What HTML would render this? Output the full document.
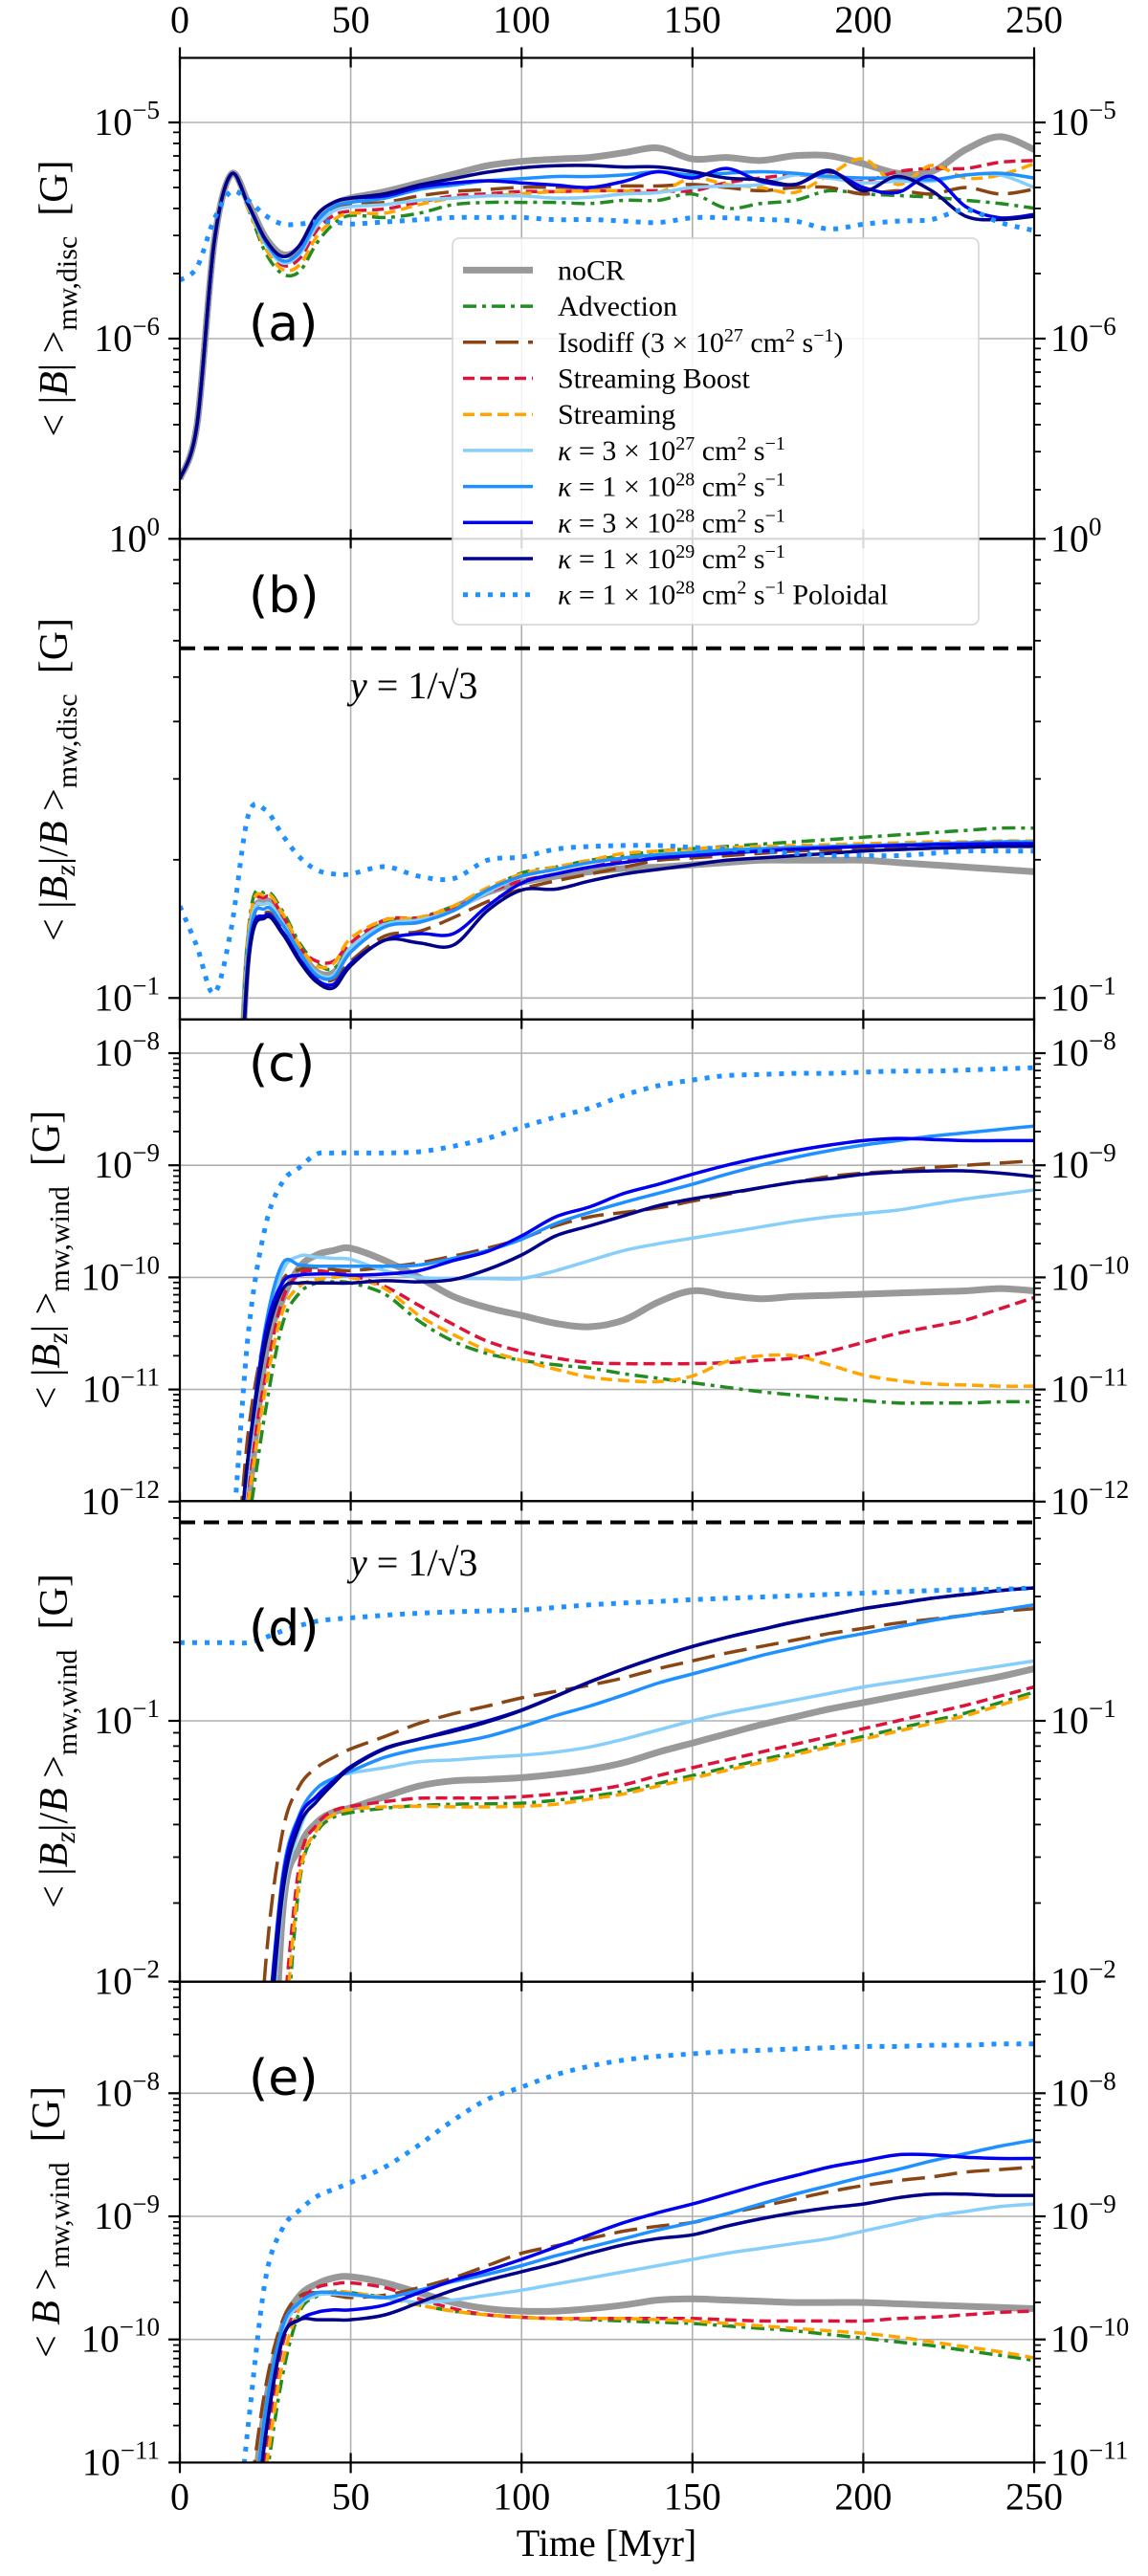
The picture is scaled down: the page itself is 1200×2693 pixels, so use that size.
<!DOCTYPE html>
<html>
<head>
<meta charset="utf-8">
<style>
  html,body{margin:0;padding:0;background:#fff;}
  svg{display:block;font-family:"Liberation Serif","DejaVu Serif",serif;}
</style>
</head>
<body>
<svg id="chart" xmlns="http://www.w3.org/2000/svg" width="1200" height="2693" viewBox="0 0 1200 2693">
  <rect x="0" y="0" width="1200" height="2693" fill="#fff"/>
  <g id="grid"></g>
  <g id="marks"></g>
  <g id="axes"></g>

  <g id="refs"></g>
  <text x="366" y="730" font-size="40"><tspan font-style="italic">y</tspan> = 1/√3</text>
  <text x="366" y="1647" font-size="40"><tspan font-style="italic">y</tspan> = 1/√3</text>

  <g font-family="'DejaVu Sans','Liberation Sans',sans-serif" font-size="52">
    <text x="260" y="356">(a)</text>
    <text x="260" y="640">(b)</text>
    <text x="260" y="1130">(c)</text>
    <text x="260" y="1720">(d)</text>
    <text x="260" y="2190">(e)</text>
  </g>

  <g font-size="42" text-anchor="middle">
    <text transform="translate(70,312) rotate(-90)">&lt; |<tspan font-style="italic">B</tspan>| &gt;<tspan font-size="30" dy="10">mw,disc</tspan><tspan dy="-10">&#160;&#160;[G]</tspan></text>
    <text transform="translate(70,815) rotate(-90)">&lt; |<tspan font-style="italic">B</tspan><tspan font-size="30" font-style="italic" dy="8">z</tspan><tspan dy="-8">|/</tspan><tspan font-style="italic">B</tspan> &gt;<tspan font-size="30" dy="10">mw,disc</tspan><tspan dy="-10">&#160;&#160;[G]</tspan></text>
    <text transform="translate(62,1317) rotate(-90)">&lt; |<tspan font-style="italic">B</tspan><tspan font-size="30" font-style="italic" dy="8">z</tspan><tspan dy="-8">| &gt;</tspan><tspan font-size="30" dy="10">mw,wind</tspan><tspan dy="-10">&#160;&#160;[G]</tspan></text>
    <text transform="translate(70,1820) rotate(-90)">&lt; |<tspan font-style="italic">B</tspan><tspan font-size="30" font-style="italic" dy="8">z</tspan><tspan dy="-8">|/</tspan><tspan font-style="italic">B</tspan> &gt;<tspan font-size="30" dy="10">mw,wind</tspan><tspan dy="-10">&#160;&#160;[G]</tspan></text>
    <text transform="translate(62,2323) rotate(-90)">&lt; <tspan font-style="italic">B</tspan> &gt;<tspan font-size="30" dy="10">mw,wind</tspan><tspan dy="-10">&#160;&#160;[G]</tspan></text>
  </g>

  <text x="634" y="2672" font-size="40" text-anchor="middle">Time [Myr]</text>

  <g id="legend" font-size="30">
    <rect x="473" y="249" width="550" height="404" rx="7" fill="#fff" fill-opacity="0.85" stroke="#d4d4d4" stroke-width="1.5"/>
    <line x1="484" y1="282.4" x2="557" y2="282.4" stroke="#999999" stroke-width="7"/>
    <text x="583" y="292.4">noCR</text>
    <line x1="484" y1="320.1" x2="557" y2="320.1" stroke="#228b22" stroke-width="3.5" stroke-dasharray="14,6,4,6"/>
    <text x="583" y="330.1">Advection</text>
    <line x1="484" y1="357.8" x2="557" y2="357.8" stroke="#8b4513" stroke-width="3.5" stroke-dasharray="24,10"/>
    <text x="583" y="367.8">Isodiff (3 × 10<tspan font-size="20" dy="-11">27</tspan><tspan dy="11"> cm</tspan><tspan font-size="20" dy="-11">2</tspan><tspan dy="11"> s</tspan><tspan font-size="20" dy="-11">−1</tspan><tspan dy="11">)</tspan></text>
    <line x1="484" y1="395.5" x2="557" y2="395.5" stroke="#dc143c" stroke-width="3.5" stroke-dasharray="12,6"/>
    <text x="583" y="405.5">Streaming Boost</text>
    <line x1="484" y1="433.2" x2="557" y2="433.2" stroke="#ffa500" stroke-width="3.5" stroke-dasharray="12,6"/>
    <text x="583" y="443.2">Streaming</text>
    <line x1="484" y1="470.9" x2="557" y2="470.9" stroke="#87cefa" stroke-width="3.5"/>
    <text x="583" y="480.9"><tspan font-style="italic">κ</tspan> = 3 × 10<tspan font-size="20" dy="-11">27</tspan><tspan dy="11"> cm</tspan><tspan font-size="20" dy="-11">2</tspan><tspan dy="11"> s</tspan><tspan font-size="20" dy="-11">−1</tspan></text>
    <line x1="484" y1="508.6" x2="557" y2="508.6" stroke="#1e90ff" stroke-width="3.5"/>
    <text x="583" y="518.6"><tspan font-style="italic">κ</tspan> = 1 × 10<tspan font-size="20" dy="-11">28</tspan><tspan dy="11"> cm</tspan><tspan font-size="20" dy="-11">2</tspan><tspan dy="11"> s</tspan><tspan font-size="20" dy="-11">−1</tspan></text>
    <line x1="484" y1="546.3" x2="557" y2="546.3" stroke="#0000ee" stroke-width="3.5"/>
    <text x="583" y="556.3"><tspan font-style="italic">κ</tspan> = 3 × 10<tspan font-size="20" dy="-11">28</tspan><tspan dy="11"> cm</tspan><tspan font-size="20" dy="-11">2</tspan><tspan dy="11"> s</tspan><tspan font-size="20" dy="-11">−1</tspan></text>
    <line x1="484" y1="584" x2="557" y2="584" stroke="#00008b" stroke-width="3.5"/>
    <text x="583" y="594"><tspan font-style="italic">κ</tspan> = 1 × 10<tspan font-size="20" dy="-11">29</tspan><tspan dy="11"> cm</tspan><tspan font-size="20" dy="-11">2</tspan><tspan dy="11"> s</tspan><tspan font-size="20" dy="-11">−1</tspan></text>
    <line x1="484" y1="621.7" x2="557" y2="621.7" stroke="#1e90ff" stroke-width="5" stroke-dasharray="5,8"/>
    <text x="583" y="631.7"><tspan font-style="italic">κ</tspan> = 1 × 10<tspan font-size="20" dy="-11">28</tspan><tspan dy="11"> cm</tspan><tspan font-size="20" dy="-11">2</tspan><tspan dy="11"> s</tspan><tspan font-size="20" dy="-11">−1</tspan><tspan dy="11"> Poloidal</tspan></text>
  </g>
</svg>

<script>
// ---------------- data (log10 of plotted quantity) ----------------
const times = [0,5,10,15,20,25,30,35,40,45,50,60,70,80,90,100,110,120,130,140,150,160,170,180,190,200,210,220,230,240,250];
const xTickValues = [0,50,100,150,200,250];
const xTickLabels = ["0","50","100","150","200","250"];

// panel (a) <|B|>_mw,disc
const logA_noCR  = [-6.65,-6.40,-5.56,-5.24,-5.37,-5.53,-5.61,-5.58,-5.44,-5.38,-5.35,-5.32,-5.28,-5.24,-5.20,-5.18,-5.17,-5.162,-5.14,-5.118,-5.169,-5.162,-5.176,-5.154,-5.154,-5.191,-5.235,-5.228,-5.125,-5.066,-5.125];
const logA_adv   = [-6.65,-6.40,-5.56,-5.24,-5.40,-5.60,-5.70,-5.69,-5.56,-5.47,-5.43,-5.44,-5.42,-5.38,-5.37,-5.37,-5.37,-5.375,-5.36,-5.36,-5.331,-5.397,-5.375,-5.36,-5.316,-5.331,-5.338,-5.346,-5.36,-5.375,-5.397];
const logA_iso   = [-6.65,-6.40,-5.56,-5.24,-5.38,-5.55,-5.64,-5.60,-5.47,-5.40,-5.38,-5.37,-5.34,-5.32,-5.31,-5.30,-5.30,-5.301,-5.294,-5.294,-5.287,-5.301,-5.316,-5.301,-5.301,-5.331,-5.316,-5.331,-5.301,-5.331,-5.309];
const logA_boost = [-6.65,-6.40,-5.56,-5.24,-5.39,-5.56,-5.66,-5.63,-5.50,-5.43,-5.41,-5.40,-5.37,-5.34,-5.33,-5.32,-5.32,-5.316,-5.316,-5.316,-5.316,-5.279,-5.257,-5.243,-5.257,-5.272,-5.228,-5.213,-5.213,-5.184,-5.176];
const logA_str   = [-6.65,-6.40,-5.56,-5.24,-5.40,-5.58,-5.68,-5.66,-5.53,-5.45,-5.42,-5.42,-5.38,-5.35,-5.34,-5.33,-5.32,-5.316,-5.316,-5.324,-5.257,-5.287,-5.301,-5.324,-5.243,-5.169,-5.287,-5.199,-5.257,-5.243,-5.191];
const logA_k3e27 = [-6.65,-6.40,-5.56,-5.24,-5.39,-5.56,-5.65,-5.61,-5.48,-5.41,-5.39,-5.38,-5.36,-5.35,-5.34,-5.34,-5.35,-5.346,-5.331,-5.324,-5.301,-5.294,-5.287,-5.243,-5.257,-5.279,-5.272,-5.272,-5.243,-5.243,-5.301];
const logA_k1e28 = [-6.65,-6.40,-5.56,-5.24,-5.38,-5.55,-5.64,-5.60,-5.46,-5.39,-5.37,-5.35,-5.31,-5.29,-5.27,-5.26,-5.25,-5.25,-5.243,-5.228,-5.243,-5.235,-5.228,-5.235,-5.25,-5.257,-5.257,-5.265,-5.243,-5.235,-5.257];
const logA_k3e28 = [-6.65,-6.40,-5.56,-5.24,-5.38,-5.54,-5.62,-5.57,-5.43,-5.37,-5.35,-5.34,-5.30,-5.28,-5.27,-5.28,-5.29,-5.301,-5.272,-5.228,-5.257,-5.213,-5.272,-5.287,-5.228,-5.301,-5.324,-5.25,-5.39,-5.441,-5.426];
const logA_k1e29 = [-6.65,-6.40,-5.56,-5.24,-5.38,-5.54,-5.62,-5.57,-5.43,-5.37,-5.35,-5.33,-5.29,-5.26,-5.23,-5.21,-5.20,-5.199,-5.206,-5.206,-5.228,-5.257,-5.265,-5.287,-5.221,-5.316,-5.25,-5.316,-5.434,-5.449,-5.434];
const logA_pol   = [-5.73,-5.67,-5.45,-5.32,-5.36,-5.43,-5.47,-5.47,-5.46,-5.46,-5.47,-5.46,-5.45,-5.44,-5.44,-5.44,-5.45,-5.449,-5.456,-5.463,-5.441,-5.441,-5.449,-5.456,-5.493,-5.471,-5.456,-5.449,-5.404,-5.463,-5.50];

// panel (b) <|Bz|/B>_mw,disc
const logB_noCR  = [-1.6,-1.6,-1.6,-1.6,-0.895,-0.79,-0.832,-0.895,-0.943,-0.945,-0.895,-0.839,-0.832,-0.804,-0.77,-0.748,-0.735,-0.725,-0.718,-0.715,-0.71,-0.705,-0.70,-0.70,-0.70,-0.70,-0.705,-0.71,-0.715,-0.72,-0.725];
const logB_adv   = [-1.6,-1.6,-1.6,-1.6,-0.86,-0.77,-0.81,-0.88,-0.925,-0.936,-0.89,-0.835,-0.825,-0.80,-0.765,-0.728,-0.715,-0.70,-0.69,-0.68,-0.675,-0.67,-0.665,-0.66,-0.655,-0.65,-0.645,-0.64,-0.635,-0.63,-0.63];
const logB_iso   = [-1.6,-1.6,-1.6,-1.6,-0.91,-0.815,-0.85,-0.91,-0.955,-0.96,-0.92,-0.865,-0.855,-0.825,-0.79,-0.763,-0.745,-0.73,-0.715,-0.70,-0.695,-0.69,-0.685,-0.68,-0.678,-0.675,-0.673,-0.67,-0.67,-0.668,-0.668];
const logB_boost = [-1.6,-1.6,-1.6,-1.6,-0.88,-0.78,-0.82,-0.89,-0.92,-0.92,-0.88,-0.83,-0.825,-0.805,-0.77,-0.745,-0.73,-0.715,-0.70,-0.69,-0.685,-0.68,-0.675,-0.672,-0.67,-0.668,-0.666,-0.664,-0.662,-0.66,-0.66];
const logB_str   = [-1.6,-1.6,-1.6,-1.6,-0.87,-0.775,-0.815,-0.885,-0.93,-0.925,-0.87,-0.83,-0.825,-0.80,-0.76,-0.73,-0.715,-0.70,-0.685,-0.68,-0.675,-0.672,-0.67,-0.668,-0.666,-0.664,-0.662,-0.66,-0.66,-0.658,-0.658];
const logB_k3e27 = [-1.6,-1.6,-1.6,-1.6,-0.89,-0.795,-0.835,-0.90,-0.945,-0.95,-0.89,-0.84,-0.83,-0.81,-0.77,-0.735,-0.72,-0.705,-0.695,-0.688,-0.683,-0.68,-0.678,-0.675,-0.672,-0.67,-0.668,-0.667,-0.666,-0.665,-0.665];
const logB_k1e28 = [-1.6,-1.6,-1.6,-1.6,-0.90,-0.805,-0.84,-0.90,-0.95,-0.955,-0.90,-0.845,-0.835,-0.81,-0.765,-0.735,-0.72,-0.705,-0.695,-0.688,-0.683,-0.678,-0.675,-0.672,-0.67,-0.668,-0.666,-0.664,-0.662,-0.66,-0.66];
const logB_k3e28 = [-1.6,-1.6,-1.6,-1.6,-0.92,-0.82,-0.855,-0.915,-0.96,-0.97,-0.925,-0.874,-0.86,-0.86,-0.80,-0.75,-0.73,-0.715,-0.705,-0.695,-0.69,-0.685,-0.68,-0.676,-0.673,-0.67,-0.668,-0.666,-0.665,-0.664,-0.664];
const logB_k1e29 = [-1.6,-1.6,-1.6,-1.6,-0.93,-0.825,-0.86,-0.92,-0.965,-0.978,-0.93,-0.874,-0.88,-0.885,-0.81,-0.765,-0.763,-0.745,-0.73,-0.72,-0.71,-0.70,-0.695,-0.69,-0.685,-0.68,-0.677,-0.674,-0.672,-0.67,-0.67];
const logB_pol   = [-0.80,-0.888,-0.99,-0.85,-0.603,-0.59,-0.645,-0.693,-0.721,-0.73,-0.73,-0.714,-0.735,-0.74,-0.70,-0.693,-0.676,-0.67,-0.668,-0.668,-0.672,-0.676,-0.68,-0.685,-0.69,-0.69,-0.69,-0.685,-0.68,-0.68,-0.68];

// panel (c) <|Bz|>_mw,wind
const logC_noCR  = [-13,-13,-13,-13,-12.0,-10.7,-10.2,-9.91,-9.8,-9.76,-9.74,-9.85,-10.0,-10.17,-10.27,-10.34,-10.41,-10.44,-10.38,-10.22,-10.12,-10.16,-10.19,-10.17,-10.16,-10.15,-10.14,-10.13,-10.12,-10.1,-10.12];
const logC_adv   = [-13,-13,-13,-13,-12.2,-11.2,-10.42,-10.14,-10.05,-10.04,-10.05,-10.15,-10.39,-10.57,-10.68,-10.74,-10.78,-10.81,-10.86,-10.9,-10.94,-10.98,-11.02,-11.05,-11.08,-11.1,-11.12,-11.12,-11.12,-11.11,-11.11];
const logC_iso   = [-13,-13,-13,-13,-11.39,-10.51,-10.03,-9.93,-9.91,-9.93,-9.94,-9.91,-9.87,-9.81,-9.74,-9.655,-9.54,-9.46,-9.42,-9.38,-9.32,-9.26,-9.2,-9.15,-9.1,-9.07,-9.05,-9.02,-9.0,-8.98,-8.96];
const logC_boost = [-13,-13,-13,-13,-11.8,-10.9,-10.2,-9.97,-9.94,-9.96,-9.98,-10.08,-10.25,-10.42,-10.57,-10.66,-10.72,-10.76,-10.77,-10.77,-10.77,-10.76,-10.74,-10.72,-10.66,-10.58,-10.5,-10.44,-10.38,-10.28,-10.18];
const logC_str   = [-13,-13,-13,-13,-12.0,-11.0,-10.31,-10.08,-10.02,-10.0,-10.0,-10.1,-10.34,-10.51,-10.65,-10.74,-10.82,-10.89,-10.92,-10.93,-10.88,-10.75,-10.7,-10.7,-10.78,-10.87,-10.92,-10.95,-10.96,-10.97,-10.97];
const logC_k3e27 = [-13,-13,-13,-13,-11.7,-10.55,-9.95,-9.81,-9.82,-9.83,-9.84,-9.94,-10.0,-10.01,-10.01,-10.01,-9.94,-9.85,-9.76,-9.7,-9.65,-9.6,-9.55,-9.5,-9.46,-9.43,-9.4,-9.35,-9.3,-9.26,-9.22];
const logC_k1e28 = [-13,-13,-13,-13,-11.6,-10.45,-9.88,-9.89,-9.9,-9.9,-9.9,-9.9,-9.89,-9.83,-9.76,-9.66,-9.52,-9.42,-9.33,-9.25,-9.17,-9.08,-9.0,-8.93,-8.87,-8.82,-8.78,-8.74,-8.71,-8.68,-8.65];
const logC_k3e28 = [-13,-13,-13,-13,-11.6,-10.5,-10.05,-9.98,-9.97,-9.97,-9.98,-9.97,-9.94,-9.85,-9.77,-9.63,-9.46,-9.37,-9.25,-9.17,-9.08,-9.0,-8.93,-8.87,-8.82,-8.78,-8.76,-8.77,-8.78,-8.78,-8.78];
const logC_k1e29 = [-13,-13,-13,-13,-11.6,-10.6,-10.11,-10.05,-10.05,-10.05,-10.05,-10.03,-10.04,-10.02,-9.93,-9.80,-9.63,-9.54,-9.45,-9.36,-9.3,-9.25,-9.2,-9.15,-9.12,-9.08,-9.06,-9.05,-9.05,-9.07,-9.1];
const logC_pol   = [-13,-13,-13,-12.4,-10.51,-9.55,-9.15,-9.02,-8.9,-8.89,-8.89,-8.89,-8.88,-8.83,-8.76,-8.66,-8.57,-8.49,-8.375,-8.29,-8.24,-8.2,-8.19,-8.18,-8.18,-8.17,-8.16,-8.16,-8.15,-8.14,-8.13];

// panel (d) <|Bz|/B>_mw,wind
const logD_noCR  = [-3,-3,-3,-3,-3,-3,-1.75,-1.487,-1.39,-1.35,-1.334,-1.291,-1.25,-1.23,-1.225,-1.218,-1.205,-1.187,-1.16,-1.12,-1.085,-1.05,-1.015,-0.985,-0.955,-0.93,-0.905,-0.88,-0.855,-0.83,-0.80];
const logD_adv   = [-3,-3,-3,-3,-3,-3,-2.4,-1.62,-1.43,-1.37,-1.352,-1.335,-1.325,-1.32,-1.318,-1.316,-1.305,-1.29,-1.27,-1.24,-1.21,-1.18,-1.15,-1.12,-1.09,-1.06,-1.03,-1.0,-0.97,-0.93,-0.89];
const logD_iso   = [-3,-3,-3,-3,-3,-1.95,-1.43,-1.25,-1.18,-1.14,-1.108,-1.06,-1.01,-0.973,-0.943,-0.912,-0.887,-0.863,-0.835,-0.80,-0.77,-0.74,-0.715,-0.69,-0.665,-0.645,-0.625,-0.61,-0.595,-0.58,-0.57];
const logD_boost = [-3,-3,-3,-3,-3,-3,-2.2,-1.55,-1.40,-1.345,-1.328,-1.31,-1.297,-1.296,-1.296,-1.291,-1.28,-1.267,-1.245,-1.21,-1.18,-1.15,-1.12,-1.09,-1.06,-1.03,-1.0,-0.97,-0.94,-0.905,-0.87];
const logD_str   = [-3,-3,-3,-3,-3,-3,-2.3,-1.6,-1.42,-1.36,-1.34,-1.33,-1.328,-1.33,-1.33,-1.328,-1.32,-1.30,-1.28,-1.25,-1.22,-1.19,-1.16,-1.13,-1.10,-1.07,-1.04,-1.01,-0.98,-0.94,-0.90];
const logD_k3e27 = [-3,-3,-3,-3,-3,-2.5,-1.70,-1.42,-1.29,-1.22,-1.20,-1.18,-1.157,-1.15,-1.14,-1.132,-1.12,-1.10,-1.07,-1.035,-1.0,-0.97,-0.945,-0.92,-0.895,-0.87,-0.85,-0.83,-0.81,-0.79,-0.77];
const logD_k1e28 = [-3,-3,-3,-3,-3,-2.3,-1.60,-1.36,-1.26,-1.22,-1.193,-1.14,-1.108,-1.085,-1.06,-1.022,-0.98,-0.943,-0.90,-0.855,-0.82,-0.785,-0.75,-0.72,-0.69,-0.665,-0.64,-0.615,-0.595,-0.575,-0.555];
const logD_k3e28 = [-3,-3,-3,-3,-3,-2.3,-1.62,-1.37,-1.29,-1.23,-1.175,-1.105,-1.07,-1.035,-1.0,-0.958,-0.905,-0.85,-0.80,-0.755,-0.715,-0.68,-0.65,-0.62,-0.595,-0.57,-0.55,-0.53,-0.515,-0.50,-0.49];
const logD_k1e29 = [-3,-3,-3,-3,-3,-2.4,-1.67,-1.40,-1.31,-1.24,-1.18,-1.108,-1.071,-1.04,-1.004,-0.96,-0.906,-0.851,-0.80,-0.755,-0.715,-0.68,-0.65,-0.62,-0.595,-0.57,-0.55,-0.53,-0.515,-0.50,-0.49];
const logD_pol   = [-0.70,-0.70,-0.70,-0.70,-0.70,-0.68,-0.655,-0.635,-0.618,-0.61,-0.605,-0.595,-0.587,-0.582,-0.578,-0.575,-0.565,-0.555,-0.548,-0.542,-0.535,-0.53,-0.525,-0.52,-0.515,-0.51,-0.505,-0.50,-0.497,-0.495,-0.49];

// panel (e) <B>_mw,wind
const logE_noCR  = [-12.5,-12.5,-12.5,-12.5,-11.6,-10.55,-9.9,-9.645,-9.55,-9.50,-9.49,-9.54,-9.62,-9.7,-9.75,-9.77,-9.77,-9.75,-9.72,-9.68,-9.67,-9.68,-9.69,-9.70,-9.70,-9.70,-9.71,-9.72,-9.73,-9.74,-9.75];
const logE_adv   = [-12.5,-12.5,-12.5,-12.5,-12.3,-11.2,-10.3,-9.78,-9.65,-9.61,-9.62,-9.66,-9.72,-9.77,-9.8,-9.82,-9.83,-9.84,-9.85,-9.86,-9.87,-9.89,-9.91,-9.93,-9.96,-9.99,-10.02,-10.05,-10.09,-10.13,-10.17];
const logE_iso   = [-12.5,-12.5,-12.5,-12.5,-11.4,-10.4,-9.85,-9.65,-9.62,-9.64,-9.66,-9.64,-9.58,-9.5,-9.4,-9.3,-9.24,-9.18,-9.12,-9.08,-9.05,-8.98,-8.92,-8.86,-8.8,-8.75,-8.71,-8.68,-8.64,-8.62,-8.6];
const logE_boost = [-12.5,-12.5,-12.5,-12.5,-12.0,-10.9,-10.05,-9.7,-9.58,-9.55,-9.54,-9.58,-9.67,-9.75,-9.8,-9.82,-9.83,-9.83,-9.83,-9.83,-9.83,-9.84,-9.85,-9.85,-9.85,-9.85,-9.83,-9.82,-9.80,-9.78,-9.77];
const logE_str   = [-12.5,-12.5,-12.5,-12.5,-12.2,-11.1,-10.2,-9.75,-9.64,-9.61,-9.62,-9.66,-9.72,-9.77,-9.8,-9.82,-9.83,-9.83,-9.83,-9.84,-9.85,-9.87,-9.89,-9.91,-9.93,-9.95,-9.98,-10.02,-10.06,-10.1,-10.15];
const logE_k3e27 = [-12.5,-12.5,-12.5,-12.5,-11.9,-10.7,-9.95,-9.72,-9.64,-9.63,-9.64,-9.66,-9.7,-9.68,-9.64,-9.6,-9.55,-9.5,-9.45,-9.4,-9.35,-9.3,-9.26,-9.22,-9.18,-9.12,-9.06,-9.0,-8.96,-8.92,-8.9];
const logE_k1e28 = [-12.5,-12.5,-12.5,-12.5,-11.8,-10.6,-9.9,-9.7,-9.62,-9.62,-9.63,-9.66,-9.6,-9.53,-9.47,-9.4,-9.32,-9.25,-9.18,-9.11,-9.05,-8.98,-8.9,-8.82,-8.75,-8.68,-8.62,-8.55,-8.49,-8.43,-8.38];
const logE_k3e28 = [-12.5,-12.5,-12.5,-12.5,-12.0,-10.8,-10.0,-9.84,-9.78,-9.76,-9.76,-9.72,-9.62,-9.52,-9.44,-9.35,-9.25,-9.15,-9.05,-8.97,-8.9,-8.82,-8.74,-8.67,-8.6,-8.55,-8.5,-8.5,-8.52,-8.53,-8.53];
const logE_k1e29 = [-12.5,-12.5,-12.5,-12.5,-12.0,-10.8,-10.0,-9.84,-9.84,-9.84,-9.84,-9.8,-9.7,-9.6,-9.52,-9.45,-9.38,-9.3,-9.23,-9.18,-9.15,-9.08,-9.02,-8.97,-8.93,-8.9,-8.85,-8.82,-8.82,-8.83,-8.83];
const logE_pol   = [-12.5,-12.5,-12.5,-12,-10.7,-9.52,-9.1,-8.95,-8.84,-8.78,-8.725,-8.6,-8.42,-8.22,-8.05,-7.95,-7.85,-7.78,-7.73,-7.7,-7.68,-7.66,-7.65,-7.64,-7.63,-7.62,-7.62,-7.61,-7.61,-7.6,-7.6];

const majorA = [-5,-6];         const majorLabelsA = ["−5","−6"];
const majorB = [0,-1];          const majorLabelsB = ["0","−1"];
const majorC = [-8,-9,-10,-11,-12]; const majorLabelsC = ["−8","−9","−10","−11","−12"];
const majorD = [-1,-2];         const majorLabelsD = ["−1","−2"];
const majorE = [-8,-9,-10,-11]; const majorLabelsE = ["−8","−9","−10","−11"];
const refLineValue = Math.log10(1/Math.sqrt(3));

// ---------------- layout ----------------
const NS = 'http://www.w3.org/2000/svg';
const X0 = 188, X1 = 1081, TMAX = 250;
function xScale(t){ return X0 + t*(X1-X0)/TMAX; }

const panels = [
  {key:'a', top:60.5,  bottom:563.3,  refY:354,    refV:-6, D:226,   majors:majorA, labels:majorLabelsA,
   series:[logA_noCR,logA_adv,logA_iso,logA_boost,logA_str,logA_k3e27,logA_k1e28,logA_k3e28,logA_k1e29,logA_pol]},
  {key:'b', top:563.3, bottom:1065.7, refY:563.3,  refV:0,  D:480,   majors:majorB, labels:majorLabelsB, ref:true,
   series:[logB_noCR,logB_adv,logB_iso,logB_boost,logB_str,logB_k3e27,logB_k1e28,logB_k3e28,logB_k1e29,logB_pol]},
  {key:'c', top:1065.7,bottom:1569.3, refY:1101,   refV:-8, D:117.2, majors:majorC, labels:majorLabelsC,
   series:[logC_noCR,logC_adv,logC_iso,logC_boost,logC_str,logC_k3e27,logC_k1e28,logC_k3e28,logC_k1e29,logC_pol]},
  {key:'d', top:1569.3,bottom:2071.7, refY:1799,   refV:-1, D:272.5, majors:majorD, labels:majorLabelsD, ref:true,
   series:[logD_noCR,logD_adv,logD_iso,logD_boost,logD_str,logD_k3e27,logD_k1e28,logD_k3e28,logD_k1e29,logD_pol]},
  {key:'e', top:2071.7,bottom:2574.4, refY:2188.3, refV:-8, D:128.7, majors:majorE, labels:majorLabelsE,
   series:[logE_noCR,logE_adv,logE_iso,logE_boost,logE_str,logE_k3e27,logE_k1e28,logE_k3e28,logE_k1e29,logE_pol]}
];
const seriesNames = ['nocr','advection','isodiff','streaming-boost','streaming','k3e27','k1e28','k3e28','k1e29','poloidal'];
const seriesColors = ['#999999','#228b22','#8b4513','#dc143c','#ffa500','#87cefa','#1e90ff','#0000ee','#00008b','#1e90ff'];
const seriesWidths = [7,3.5,3.5,3.5,3.5,3.5,3.5,3.5,3.5,5];
const seriesDash = ['','14,6,4,6','24,10','12,6','12,6','','','','','5,8'];

function yScale(p, v){ return p.refY - (v - p.refV)*p.D; }
function vAt(p, y){ return p.refV + (p.refY - y)/p.D; }

// Catmull-Rom -> cubic Bezier smoothing
function smoothPath(pts){
  let d = 'M' + pts[0][0].toFixed(1) + ',' + pts[0][1].toFixed(1);
  for (let i = 0; i < pts.length - 1; i++) {
    const p0 = pts[Math.max(0, i-1)], p1 = pts[i], p2 = pts[i+1], p3 = pts[Math.min(pts.length-1, i+2)];
    const c1x = p1[0] + (p2[0]-p0[0])/6, c1y = p1[1] + (p2[1]-p0[1])/6;
    const c2x = p2[0] - (p3[0]-p1[0])/6, c2y = p2[1] - (p3[1]-p1[1])/6;
    d += 'C' + c1x.toFixed(1) + ',' + c1y.toFixed(1) + ' ' + c2x.toFixed(1) + ',' + c2y.toFixed(1) + ' ' + p2[0].toFixed(1) + ',' + p2[1].toFixed(1);
  }
  return d;
}

const svg = document.getElementById('chart');
const gGrid = document.getElementById('grid');
const gMarks = document.getElementById('marks');
const gAxes = document.getElementById('axes');
const gRefs = document.getElementById('refs');

function el(tag, parent){ const e = document.createElementNS(NS, tag); parent.appendChild(e); return e; }

const defs = el('defs', svg);
svg.insertBefore(defs, svg.firstChild);
panels.forEach(p => {
  const cp = el('clipPath', defs);
  cp.setAttribute('id', 'clip-' + p.key);
  const r = el('rect', cp);
  r.setAttribute('x', X0); r.setAttribute('y', p.top);
  r.setAttribute('width', X1 - X0); r.setAttribute('height', p.bottom - p.top);
});

panels.forEach(p => {
  const vMin = vAt(p, p.bottom), vMax = vAt(p, p.top);
  xTickValues.forEach(t => {
    if (t <= 0 || t >= TMAX) return;
    const l = el('line', gGrid);
    l.setAttribute('x1', xScale(t)); l.setAttribute('x2', xScale(t));
    l.setAttribute('y1', p.top); l.setAttribute('y2', p.bottom);
    l.setAttribute('stroke', '#b0b0b0'); l.setAttribute('stroke-width', '1.6');
    
    
  });
  p.majors.forEach(m => {
    const y = yScale(p, m);
    if (y <= p.top + 1 || y >= p.bottom - 1) return;
    const l = el('line', gGrid);
    l.setAttribute('x1', X0); l.setAttribute('x2', X1);
    l.setAttribute('y1', y); l.setAttribute('y2', y);
    l.setAttribute('stroke', '#b0b0b0'); l.setAttribute('stroke-width', '1.6');
    
    
  });
  p.series.forEach((vals, i) => {
    const pts = vals.map((v, j) => [xScale(times[j]), yScale(p, v)]);
    const path = el('path', gMarks);
    path.setAttribute('d', smoothPath(pts));
    path.setAttribute('fill', 'none');
    path.setAttribute('stroke', seriesColors[i]);
    path.setAttribute('stroke-width', seriesWidths[i]);
    path.setAttribute('stroke-linejoin', 'round');
    if (seriesDash[i]) path.setAttribute('stroke-dasharray', seriesDash[i]);
    path.setAttribute('clip-path', 'url(#clip-' + p.key + ')');
    
    
  });
  if (p.ref) {
    const y = yScale(p, refLineValue);
    const l = el('line', gRefs);
    l.setAttribute('x1', X0); l.setAttribute('x2', X1);
    l.setAttribute('y1', y); l.setAttribute('y2', y);
    l.setAttribute('stroke', '#000'); l.setAttribute('stroke-width', '4');
    l.setAttribute('stroke-dasharray', '16,9');
    
    
  }
  const r = el('rect', gAxes);
  r.setAttribute('x', X0); r.setAttribute('y', p.top);
  r.setAttribute('width', X1 - X0); r.setAttribute('height', p.bottom - p.top);
  r.setAttribute('fill', 'none'); r.setAttribute('stroke', '#000'); r.setAttribute('stroke-width', '2.2');
  
  
  for (let dec = Math.floor(vMin) ; dec <= Math.ceil(vMax); dec++) {
    for (let k = 2; k <= 9; k++) {
      const v = dec + Math.log10(k);
      if (v <= vMin + 0.002 || v >= vMax - 0.002) continue;
      const y = yScale(p, v);
      [[X0 - 7, X0], [X1, X1 + 7]].forEach(xx => {
        const t = el('line', gAxes);
        t.setAttribute('x1', xx[0]); t.setAttribute('x2', xx[1]);
        t.setAttribute('y1', y); t.setAttribute('y2', y);
        t.setAttribute('stroke', '#000'); t.setAttribute('stroke-width', '1.8');
        
        
      });
    }
  }
  p.majors.forEach((m, i) => {
    const y = yScale(p, m);
    [[X0 - 12, X0], [X1, X1 + 12]].forEach(xx => {
      const t = el('line', gAxes);
      t.setAttribute('x1', xx[0]); t.setAttribute('x2', xx[1]);
      t.setAttribute('y1', y); t.setAttribute('y2', y);
      t.setAttribute('stroke', '#000'); t.setAttribute('stroke-width', '2.2');
      
      
    });
    [['end', 167], ['start', 1098]].forEach((side, si) => {
      const tx = el('text', gAxes);
      tx.setAttribute('font-size', '40');
      tx.setAttribute('text-anchor', side[0]);
      tx.setAttribute('x', side[1]);
      tx.setAttribute('y', y + 13);
      const a = el('tspan', tx); a.textContent = '10';
      const b = el('tspan', tx); b.textContent = p.labels[i];
      b.setAttribute('font-size', '27'); b.setAttribute('dy', '-17');
      
      
    });
  });
  xTickValues.forEach(t => {
    [[p.top, p.top + 10], [p.bottom - 10, p.bottom]].forEach(yy => {
      const tk = el('line', gAxes);
      tk.setAttribute('x1', xScale(t)); tk.setAttribute('x2', xScale(t));
      tk.setAttribute('y1', yy[0]); tk.setAttribute('y2', yy[1]);
      tk.setAttribute('stroke', '#000'); tk.setAttribute('stroke-width', '2.2');
      
      
    });
  });
});

const topY = panels[0].top, botY = panels[4].bottom;
xTickValues.forEach((t, i) => {
  const up = el('line', gAxes);
  up.setAttribute('x1', xScale(t)); up.setAttribute('x2', xScale(t));
  up.setAttribute('y1', topY - 11); up.setAttribute('y2', topY);
  up.setAttribute('stroke', '#000'); up.setAttribute('stroke-width', '2.2');
  
  
  const dn = el('line', gAxes);
  dn.setAttribute('x1', xScale(t)); dn.setAttribute('x2', xScale(t));
  dn.setAttribute('y1', botY); dn.setAttribute('y2', botY + 11);
  dn.setAttribute('stroke', '#000'); dn.setAttribute('stroke-width', '2.2');
  
  
  const lt = el('text', gAxes);
  lt.setAttribute('x', xScale(t)); lt.setAttribute('y', 34);
  lt.setAttribute('font-size', '40'); lt.setAttribute('text-anchor', 'middle');
  lt.textContent = xTickLabels[i];
  
  
  const lb = el('text', gAxes);
  lb.setAttribute('x', xScale(t)); lb.setAttribute('y', botY + 49);
  lb.setAttribute('font-size', '40'); lb.setAttribute('text-anchor', 'middle');
  lb.textContent = xTickLabels[i];
  
  
});

svg.appendChild(document.getElementById('legend'));
</script>
</body>
</html>
